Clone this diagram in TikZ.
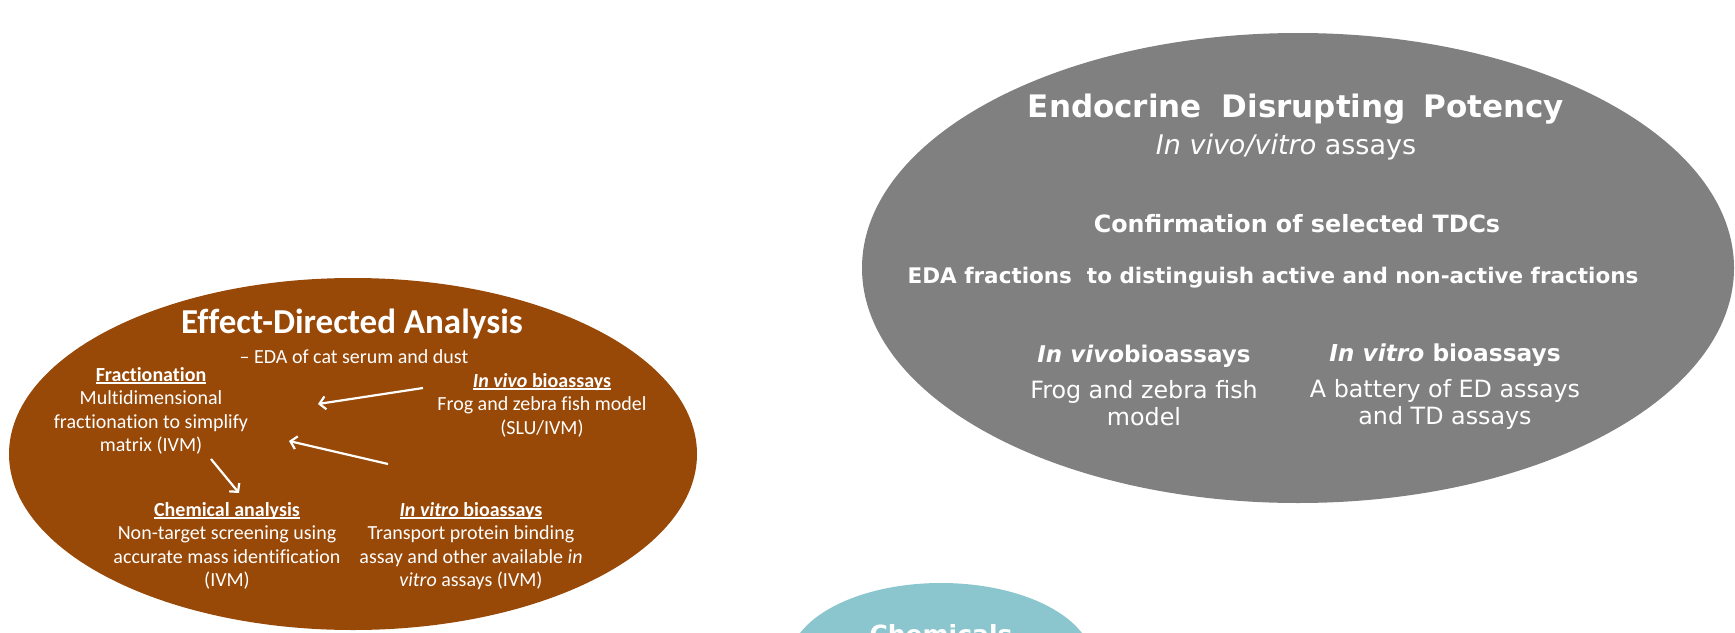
\documentclass[tikz,border=0pt]{standalone}
\usepackage{fontspec}
\newfontfamily\edafont[Ligatures=NoCommon]{Carlito}
\newfontfamily\edpfont{DejaVu Sans}
\usepackage{color}
\definecolor{myrust}{RGB}{152,72,7}
\definecolor{mygrey}{RGB}{128,128,128}
\definecolor{myteal}{RGB}{139,198,206}
\usepackage{tikz}
\usetikzlibrary{shapes.geometric,arrows.meta}
\newsavebox\hdlbox
\newcommand{\hdl}[1]{\sbox\hdlbox{#1}\rlap{\rule[-2.6pt]{\wd\hdlbox}{1.3pt}}\usebox\hdlbox}

\begin{document}
\begin{tikzpicture}[
  x=1pt,
  y=-1pt,
  blob/.style={
    ellipse,
    draw=none,
    inner sep=0pt
    },
  edatext/.style={
    text=white,
    align=center,
    anchor=base,
    inner sep=0pt,
    font={\edafont\fontsize{20}{23.5}\selectfont}
    },
  edptext/.style={
    text=white,
    align=center,
    anchor=base,
    inner sep=0pt,
    font={\edpfont\fontsize{23.8}{27}\selectfont}
    },
  arr/.style={
    draw=white,
    line width=2.2pt,
    -{Straight Barb[length=6pt,width=13pt]}
    }
]
\useasboundingbox (0,0) rectangle (1735,632);
\clip (0,0) rectangle (1735,632);

\node[blob, fill=myrust, minimum width=688pt, minimum height=352pt] at (353,454) (eda) {};
\node[blob, fill=mygrey, minimum width=872pt, minimum height=470pt] at (1298,268) (edp) {};
\node[blob, fill=myteal, minimum width=304pt, minimum height=160pt] at (941,663) (chem) {};

\node[edatext, font={\edafont\bfseries\fontsize{35}{40}\selectfont}] at (352,333) (edatitle) {Effect-Directed Analysis};
\node[edatext] at (354,363) (edasub) {– EDA of cat serum and dust};
\node[edatext] at (151,451.5) (frac) {\hdl{\textbf{Fractionation}}\\Multidimensional\\fractionation to simplify\\matrix (IVM)};
\node[edatext] at (542,434) (vivo) {\hdl{\textbf{\textit{In vivo} bioassays}}\\Frog and zebra fish model\\(SLU/IVM)};
\node[edatext] at (227,586.5) (chemana) {\hdl{\textbf{Chemical analysis}}\\Non-target screening using\\accurate mass identification\\(IVM)};
\node[edatext] at (471,586.5) (vitro) {\hdl{\textbf{\textit{In vitro} bioassays}}\\Transport protein binding\\assay and other available \textit{in}\\\textit{vitro} assays (IVM)};

\coordinate (vivoout) at (423,388);
\coordinate (fracin) at (318,404);
\coordinate (vitroout) at (388,464);
\coordinate (fracin2) at (289,441);
\coordinate (fracout) at (211,459);
\coordinate (chemin) at (239,493);
\draw[arr] (vivoout) -- (fracin);
\draw[arr] (vitroout) -- (fracin2);
\draw[arr] (fracout) -- (chemin);

\node[edptext, font={\edpfont\bfseries\fontsize{31}{36}\selectfont}] at (1296,117) (edptitle) {Endocrine\hspace{9pt} Disrupting\hspace{7pt} Potency};
\node[edptext, font={\edpfont\fontsize{27}{32}\selectfont}] at (1286,154) (edpsub) {\textit{In vivo/vitro} assays};
\node[edptext, font={\edpfont\bfseries\fontsize{23.8}{28}\selectfont}] at (1297,232) (confirm) {Confirmation of selected TDCs};
\node[edptext, font={\edpfont\bfseries\fontsize{21.5}{25}\selectfont}] at (1273,283) (fractions) {EDA fractions\ \ to distinguish active and non-active fractions};
\node[edptext] at (1144,425) (gvivo) {{\bfseries\fontsize{23}{27}\selectfont\textit{In vivo}bioassays}\\[9pt]Frog and zebra fish\\model};
\node[edptext] at (1445,424) (gvitro) {{\bfseries\fontsize{23.3}{27}\selectfont\textit{In vitro} bioassays}\\[9pt]A battery of ED assays\\and TD assays};

\node[edptext, font={\edpfont\bfseries\fontsize{25}{30}\selectfont}] at (941,643) (chemtitle) {Chemicals};

\end{tikzpicture}
\end{document}
